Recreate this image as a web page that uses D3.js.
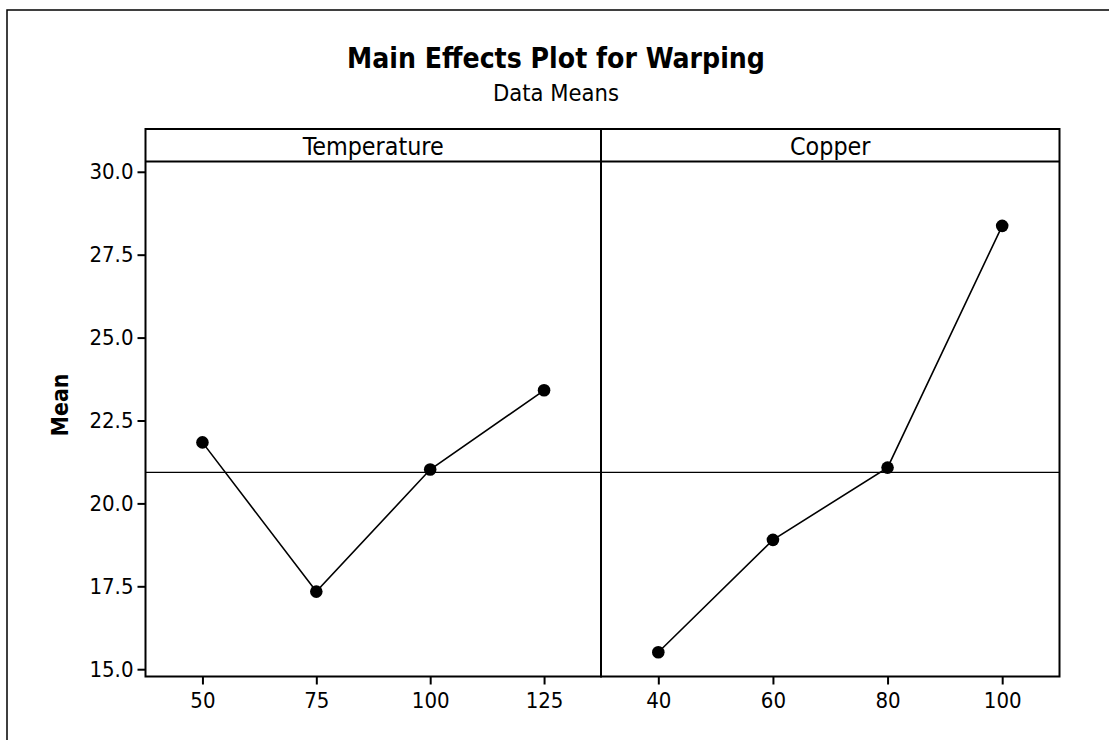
<!DOCTYPE html>
<html>
<head>
<meta charset="utf-8">
<script src="https://cdn.jsdelivr.net/npm/d3@7"></script>
<style>
  html, body { margin: 0; padding: 0; background: #fff; }
  svg { display: block; }
  text { font-family: "DejaVu Sans Condensed", "DejaVu Sans", Verdana, sans-serif; font-stretch: condensed; fill: #000; }
</style>
</head>
<body>
<svg id="chart" width="1109" height="740"></svg>
<script>
// ---- data ----
const factors = ["Temperature", "Copper"];
const temperatureLevels = [50, 75, 100, 125];
const temperatureMeans = [21.84, 17.34, 21.02, 23.41];
const copperLevels = [40, 60, 80, 100];
const copperMeans = [15.51, 18.9, 21.08, 28.37];
const yTicks = [15.0, 17.5, 20.0, 22.5, 25.0, 27.5, 30.0];
const temperatureDomain = [37.5, 137.5];
const copperDomain = [30, 110];
const yDomain = [14.78, 30.31];
const grandMean = d3.mean(temperatureMeans.concat(copperMeans));

const panels = [
  { name: factors[0], levels: temperatureLevels, means: temperatureMeans, domain: temperatureDomain },
  { name: factors[1], levels: copperLevels, means: copperMeans, domain: copperDomain }
];

// ---- layout ----
const svg = d3.select("#chart");
const plotLeft = 145.5, plotRight = 1059.5, divider = 601;
const stripTop = 129, stripBottom = 161.5, plotBottom = 676.5;
const panelX = [[plotLeft, divider], [divider, plotRight]];
const fontCss = '"DejaVu Sans Condensed", "DejaVu Sans", sans-serif';

// outer frame (left and top visible)
svg.append("rect").attr("x", 7).attr("y", 10).attr("width", 1200).attr("height", 900)
  .attr("fill", "none").attr("stroke", "#000").attr("stroke-width", 1.5);

function fitText(sel, target) {
  const w = sel.node().getComputedTextLength();
  const fs = parseFloat(sel.attr("font-size"));
  const nfs = fs * target / w;
  sel.attr("font-size", nfs);
  return nfs;
}
const title = svg.append("text").attr("x", 556).attr("y", 68).attr("text-anchor", "middle")
  .attr("font-size", 24).attr("font-weight", "bold").text("Main Effects Plot for Warping");
fitText(title, 418);
const sub = svg.append("text").attr("x", 556).attr("y", 101).attr("text-anchor", "middle")
  .attr("font-size", 18).text("Data Means");
fitText(sub, 126);

const y = d3.scaleLinear().domain(yDomain).range([plotBottom, stripBottom]);
let stripFontSize = 22;

panels.forEach((p, i) => {
  const [x0, x1] = panelX[i];
  const x = d3.scaleLinear().domain(p.domain).range([x0, x1]);
  const g = svg.append("g");

  g.append("line").attr("x1", x0).attr("x2", x1)
    .attr("y1", y(grandMean)).attr("y2", y(grandMean))
    .attr("stroke", "#000").attr("stroke-width", 1.3);

  const line = d3.line().x((d, j) => x(p.levels[j])).y(d => y(d));
  g.append("path").datum(p.means).attr("d", line)
    .attr("fill", "none").attr("stroke", "#000").attr("stroke-width", 1.6);

  g.selectAll("circle").data(p.means).enter().append("circle")
    .attr("cx", (d, j) => x(p.levels[j])).attr("cy", d => y(d)).attr("r", 6.3)
    .attr("fill", "#000");

  const xAxis = d3.axisBottom(x).tickValues(p.levels).tickSize(8).tickPadding(8)
    .tickFormat(d3.format("d"));
  const ax = g.append("g").attr("transform", `translate(0,${plotBottom})`).call(xAxis);
  ax.select(".domain").remove();
  ax.selectAll(".tick line").attr("stroke", "#000").attr("stroke-width", 2);
  ax.selectAll(".tick text").attr("font-size", 22)
    .attr("font-family", fontCss).attr("fill", "#000");

  g.append("rect").attr("x", x0).attr("y", stripTop).attr("width", x1 - x0)
    .attr("height", plotBottom - stripTop).attr("fill", "none")
    .attr("stroke", "#000").attr("stroke-width", 2);
  g.append("line").attr("x1", x0).attr("x2", x1).attr("y1", stripBottom).attr("y2", stripBottom)
    .attr("stroke", "#000").attr("stroke-width", 1.8);

  const st = g.append("text").attr("x", (x0 + x1) / 2).attr("y", 155).attr("text-anchor", "middle")
    .attr("font-size", stripFontSize).text(p.name);
  if (i === 0) stripFontSize = fitText(st, 141);
});

const yAxis = d3.axisLeft(y).tickValues(yTicks).tickSize(8).tickPadding(4)
  .tickFormat(d3.format(".1f"));
const ay = svg.append("g").attr("transform", `translate(${plotLeft},0)`).call(yAxis);
ay.select(".domain").remove();
ay.selectAll(".tick line").attr("stroke", "#000").attr("stroke-width", 2);
ay.selectAll(".tick text").attr("font-size", 22)
  .attr("font-family", fontCss).attr("fill", "#000");

const ml = svg.append("text").attr("transform", "translate(68,405) rotate(-90)")
  .attr("text-anchor", "middle").attr("font-size", 21).attr("font-weight", "bold").text("Mean");
fitText(ml, 63);
</script>
</body>
</html>
